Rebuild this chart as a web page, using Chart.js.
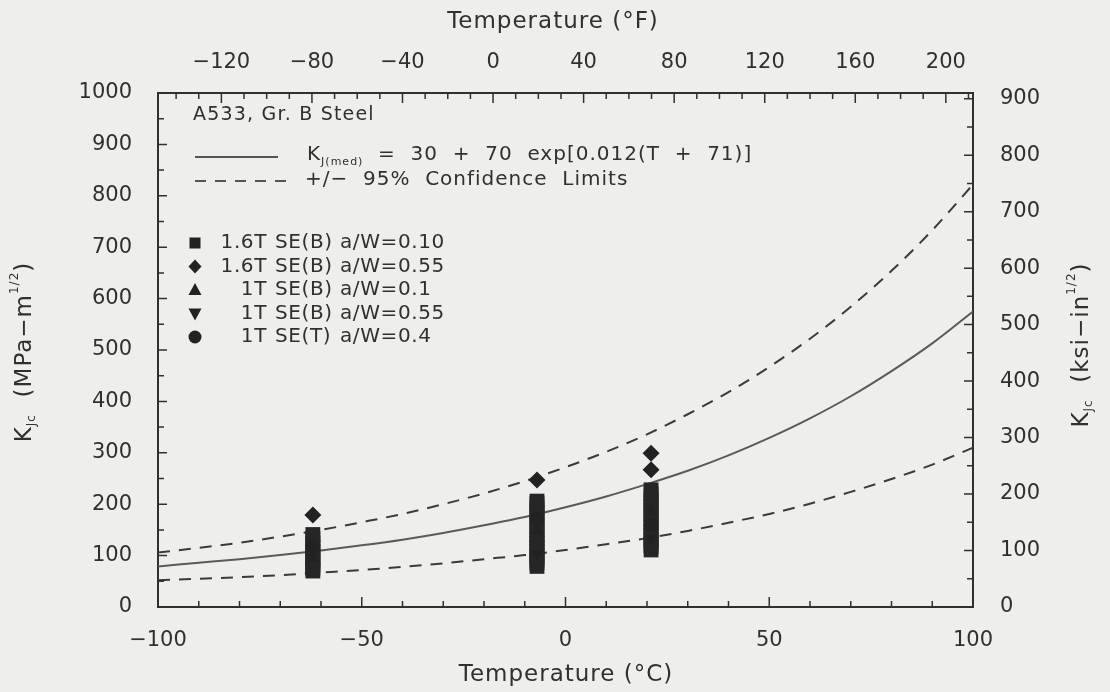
<!DOCTYPE html>
<html>
<head>
<meta charset="utf-8">
<script src="https://cdn.jsdelivr.net/npm/chart.js@4.4.1/dist/chart.umd.min.js"></script>
<style>
  html, body { margin: 0; padding: 0; background: #eeeeec; }
  #wrap { width: 1110px; height: 692px; }
</style>
</head>
<body>
<div id="wrap"><canvas id="graficaKjc"></canvas></div>
<script>
// master curve and 95% bounds, every 10 °C
const curveTemps = [-100, -90, -80, -70, -60, -50, -40, -30, -20, -10, 0, 10, 20, 30, 40, 50, 60, 70, 80, 90, 100];
const kMedian = [79, 86, 93, 101, 110, 120, 131, 144, 159, 175, 194, 215, 239, 265, 295, 329, 367, 410, 459, 513, 575];
const kUpper = [106, 115, 125, 137, 150, 165, 181, 200, 221, 245, 272, 302, 336, 375, 418, 467, 522, 584, 654, 733, 822];
const kLower = [52, 55, 58, 62, 67, 72, 78, 85, 93, 101, 111, 122, 134, 148, 164, 181, 201, 224, 249, 277, 310];

// 1.6T SE(B) a/W=0.10 -- three dense stacks
const sqTemps = [-62, -7, 21];
const sqAtM62 = [70, 75, 81, 88, 94, 101, 108, 116, 124, 133, 141];
const sqAtM7 = [79, 86, 93, 100, 108, 116, 124, 132, 140, 149, 158, 167, 176, 185, 194, 201, 206];
const sqAt21 = [111, 118, 125, 132, 140, 148, 156, 164, 172, 180, 188, 196, 204, 212, 220, 228];

// 1.6T SE(B) a/W=0.55
const dmTemps = [-62, -7, 21, 21];
const dmK = [179, 247, 267, 299];

// 1T SE(B) a/W=0.1
const trTemps = [-62, -7, 21];
const trK = [96, 148, 186];

// 1T SE(B) a/W=0.55
const itTemps = [-7, 21];
const itK = [104, 132];

// 1T SE(T) a/W=0.4
const ciTemps = [-62, -7, 21];
const ciK = [118, 172, 160];

// tick labels
const cTicks = [-100, -50, 0, 50, 100];
const fTicks = [-120, -80, -40, 0, 40, 80, 120, 160, 200];
const mpaTicks = [0, 100, 200, 300, 400, 500, 600, 700, 800, 900, 1000];
const ksiTicks = [0, 100, 200, 300, 400, 500, 600, 700, 800, 900];

const ink = '#303030';
const tickFont = { family: 'DejaVu Sans', size: 21 };

function pts(ts, ks) {
  return ks.map((k, i) => ({ x: ts[i], y: k }));
}
function stack(t, ks) {
  return ks.map(k => ({ x: t, y: k }));
}
function label(v) {
  return v < 0 ? '\u2212' + Math.abs(v) : String(v);
}

const squares = [].concat(stack(sqTemps[0], sqAtM62), stack(sqTemps[1], sqAtM7), stack(sqTemps[2], sqAt21));

function marker(ctx, style, x, y) {
  ctx.beginPath();
  if (style === 'sq') ctx.rect(x - 5.5, y - 5.5, 11, 11);
  if (style === 'dm') { ctx.moveTo(x, y - 7); ctx.lineTo(x + 6.5, y); ctx.lineTo(x, y + 7); ctx.lineTo(x - 6.5, y); }
  if (style === 'tr') { ctx.moveTo(x, y - 7); ctx.lineTo(x + 6.5, y + 5); ctx.lineTo(x - 6.5, y + 5); }
  if (style === 'it') { ctx.moveTo(x, y + 7); ctx.lineTo(x + 6.5, y - 5); ctx.lineTo(x - 6.5, y - 5); }
  if (style === 'ci') ctx.arc(x, y, 6.5, 0, Math.PI * 2);
  ctx.closePath();
  ctx.fill();
}

// draws a run of text pieces with sub/superscripts
function rich(ctx, segs, x, y, align, spacing) {
  ctx.letterSpacing = (spacing || 0) + 'px';
  let w = 0;
  segs.forEach(s => { ctx.font = s.size + 'px "DejaVu Sans"'; w += ctx.measureText(s.t).width; });
  let cx = align === 'center' ? x - w / 2 : x;
  ctx.textAlign = 'left';
  segs.forEach(s => {
    ctx.font = s.size + 'px "DejaVu Sans"';
    ctx.fillText(s.t, cx, y + (s.dy || 0));
    cx += ctx.measureText(s.t).width;
  });
  ctx.letterSpacing = '0px';
}

const overlay = {
  id: 'overlay',
  afterDraw(chart) {
    const { ctx, chartArea: a, scales } = chart;
    ctx.save();
    // inward tick marks
    ctx.strokeStyle = ink;
    ctx.lineWidth = 1.5;
    ctx.beginPath();
    for (let v = -100; v <= 100; v += 10) {
      const px = scales.x.getPixelForValue(v);
      const len = v % 50 === 0 ? 10 : 6;
      ctx.moveTo(px, a.bottom); ctx.lineTo(px, a.bottom - len);
    }
    for (let v = -140; v <= 210; v += 10) {
      const px = scales.x2.getPixelForValue(v);
      const len = v % 40 === 0 ? 10 : 6;
      ctx.moveTo(px, a.top); ctx.lineTo(px, a.top + len);
    }
    for (let v = 50; v < 1000; v += 50) {
      const py = scales.y.getPixelForValue(v);
      const len = v % 100 === 0 ? 9 : 6;
      ctx.moveTo(a.left, py); ctx.lineTo(a.left + len, py);
    }
    for (let v = 50; v <= 900; v += 50) {
      const py = scales.y2.getPixelForValue(v);
      const len = v % 100 === 0 ? 9 : 6;
      ctx.moveTo(a.right, py); ctx.lineTo(a.right - len, py);
    }
    ctx.stroke();

    ctx.fillStyle = ink;
    ctx.textBaseline = 'middle';
    // axis titles
    rich(ctx, [{ t: 'Temperature (\u00b0F)', size: 23 }], 553, 22, 'center', 1);
    rich(ctx, [{ t: 'Temperature (\u00b0C)', size: 23 }], 566, 675, 'center', 1);
    ctx.save();
    ctx.translate(25, 352);
    ctx.rotate(-Math.PI / 2);
    rich(ctx, [{ t: 'K', size: 23 }, { t: 'Jc', size: 12, dy: 7 }, { t: '  (MPa\u2212m', size: 23 }, { t: '1/2', size: 12, dy: -10 }, { t: ')', size: 23 }], 0, 0, 'center', 1);
    ctx.restore();
    ctx.save();
    ctx.translate(1082, 345);
    ctx.rotate(-Math.PI / 2);
    rich(ctx, [{ t: 'K', size: 23 }, { t: 'Jc', size: 12, dy: 7 }, { t: '  (ksi\u2212in', size: 23 }, { t: '1/2', size: 12, dy: -10 }, { t: ')', size: 23 }], 0, 0, 'center', 1);
    ctx.restore();

    // legend block inside the plot
    rich(ctx, [{ t: 'A533, Gr. B Steel', size: 19 }], 193, 115, 'left', 1.2);
    ctx.strokeStyle = '#555';
    ctx.lineWidth = 2;
    ctx.beginPath(); ctx.moveTo(195, 157); ctx.lineTo(278, 157); ctx.stroke();
    rich(ctx, [{ t: 'K', size: 20 }, { t: 'J(med)', size: 11, dy: 7 }, { t: '  =  30  +  70  exp[0.012(T  +  71)]', size: 20 }], 307, 155, 'left', 1);
    ctx.setLineDash([11, 9]);
    ctx.beginPath(); ctx.moveTo(195, 181); ctx.lineTo(290, 181); ctx.stroke();
    ctx.setLineDash([]);
    rich(ctx, [{ t: '+/\u2212  95%  Confidence  Limits', size: 20 }], 305, 180, 'left', 1);

    const rows = [
      ['sq', '1.6T', 'a/W=0.10', 'SE(B)'],
      ['dm', '1.6T', 'a/W=0.55', 'SE(B)'],
      ['tr', '1T', 'a/W=0.1', 'SE(B)'],
      ['it', '1T', 'a/W=0.55', 'SE(B)'],
      ['ci', '1T', 'a/W=0.4', 'SE(T)']
    ];
    ctx.fillStyle = '#222';
    rows.forEach((r, i) => {
      const y = 243 + i * 23.5;
      marker(ctx, r[0], 195, y);
    });
    ctx.fillStyle = ink;
    ctx.font = '20px "DejaVu Sans"';
    ctx.letterSpacing = '0.6px';
    rows.forEach((r, i) => {
      const y = 243 + i * 23.5;
      ctx.textAlign = 'right'; ctx.fillText(r[1], 267, y);
      ctx.textAlign = 'left'; ctx.fillText(r[3], 275, y); ctx.fillText(r[2], 340, y);
    });
    ctx.letterSpacing = '0px';
    ctx.restore();
  }
};

const axisBase = {
  type: 'linear',
  grid: { display: false, drawTicks: false },
  border: { display: true, color: ink, width: 2 },
  ticks: { font: tickFont, color: ink, maxRotation: 0, callback: label }
};

window.onload = () => {
  new Chart(document.getElementById('graficaKjc'), {
    type: 'scatter',
    data: {
      datasets: [
        { label: '1.6T SE(B) a/W=0.55', data: pts(dmTemps, dmK), pointStyle: 'rectRot', pointRadius: 8.5, backgroundColor: '#222', borderWidth: 0 },
        { label: '1T SE(B) a/W=0.1', data: pts(trTemps, trK), pointStyle: 'triangle', pointRadius: 7, backgroundColor: '#222', borderWidth: 0 },
        { label: '1T SE(B) a/W=0.55', data: pts(itTemps, itK), pointStyle: 'triangle', rotation: 180, pointRadius: 7, backgroundColor: '#222', borderWidth: 0 },
        { label: '1T SE(T) a/W=0.4', data: pts(ciTemps, ciK), pointStyle: 'circle', pointRadius: 7, backgroundColor: '#222', borderWidth: 0 },
        { label: '1.6T SE(B) a/W=0.10', data: squares, pointStyle: 'rect', pointRadius: 10.5, backgroundColor: '#262626', borderWidth: 0 },
        { label: 'median', data: pts(curveTemps, kMedian), showLine: true, pointRadius: 0, borderColor: '#5a5a5a', borderWidth: 2, cubicInterpolationMode: 'monotone' },
        { label: 'upper 95%', data: pts(curveTemps, kUpper), showLine: true, pointRadius: 0, borderColor: '#3a3a3a', borderWidth: 2, borderDash: [12, 9], cubicInterpolationMode: 'monotone' },
        { label: 'lower 95%', data: pts(curveTemps, kLower), showLine: true, pointRadius: 0, borderColor: '#3a3a3a', borderWidth: 2, borderDash: [12, 9], cubicInterpolationMode: 'monotone' }
      ]
    },
    options: {
      responsive: true,
      maintainAspectRatio: false,
      animation: false,
      layout: { padding: 0 },
      plugins: { legend: { display: false }, tooltip: { enabled: false } },
      scales: {
        x: { ...axisBase, position: 'bottom', min: -100, max: 100,
          ticks: { ...axisBase.ticks, padding: 21 },
          afterBuildTicks: s => { s.ticks = cTicks.map(v => ({ value: v })); },
          afterFit: s => { s.height = 85; } },
        x2: { ...axisBase, position: 'top', min: -148, max: 212,
          ticks: { ...axisBase.ticks, padding: 18 },
          afterBuildTicks: s => { s.ticks = fTicks.map(v => ({ value: v })); },
          afterFit: s => { s.height = 93; } },
        y: { ...axisBase, position: 'left', min: 0, max: 1000,
          ticks: { ...axisBase.ticks, padding: 26 },
          afterBuildTicks: s => { s.ticks = mpaTicks.map(v => ({ value: v })); },
          afterFit: s => { s.width = 158; } },
        y2: { ...axisBase, position: 'right', min: 0, max: 910.1,
          ticks: { ...axisBase.ticks, padding: 27 },
          afterBuildTicks: s => { s.ticks = ksiTicks.map(v => ({ value: v })); },
          afterFit: s => { s.width = 137; } }
      }
    },
    plugins: [overlay]
  });
};
</script>
</body>
</html>
